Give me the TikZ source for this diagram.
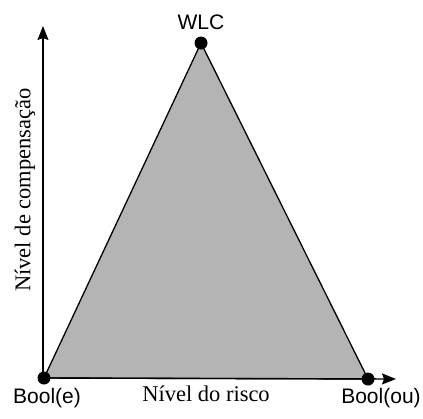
\documentclass[tikz,border=0pt]{standalone}
\usepackage{fontspec}
\setmainfont{Liberation Serif}
\setsansfont{Liberation Sans}
\usetikzlibrary{arrows.meta}
\definecolor{areagray}{RGB}{180,180,180}
\tikzset{
  vertex/.style={circle, fill=black, inner sep=0pt, minimum size=13pt},
  axisline/.style={line width=1.4pt, -{Stealth[length=14pt, width=11pt, inset=2pt]}},
  edge/.style={line width=1.3pt},
  tag/.style={font=\sffamily\fontsize{21}{23}\selectfont, inner sep=0pt},
  axislabel/.style={font=\fontsize{22.5}{25}\selectfont, inner sep=0pt}
}
\begin{document}
\begin{tikzpicture}[x=1pt, y=-1pt]
\useasboundingbox (0,0) rectangle (423,418);

% corner points of the trade-off triangle
\coordinate (o) at (44,378);
\coordinate (ou) at (368,379);
\coordinate (w) at (201,43);

% shaded region
\filldraw[fill=areagray, draw=black, edge] (o) -- (w) -- (ou) -- cycle;

% axes
\coordinate (ytip) at (43,26);
\coordinate (xtip) at (396,379);
\draw[axisline] (43,379) -- (ytip);
\draw[axisline] (o) -- (xtip);

% vertices
\node[vertex] (ve) at (o) {};
\node[vertex] (vou) at (ou) {};
\node[vertex] (vw) at (w) {};

% labels
\node[tag] (lw) at (201,22) {WLC};
\node[tag] (le) at (47,398) {Bool(e)};
\node[tag] (lou) at (381,398) {Bool(ou)};
\node[axislabel] (lx) at (206,394) {Nível do risco};
\node[axislabel, rotate=90] (ly) at (25,190) {Nível de compensação};
\end{tikzpicture}
\end{document}
